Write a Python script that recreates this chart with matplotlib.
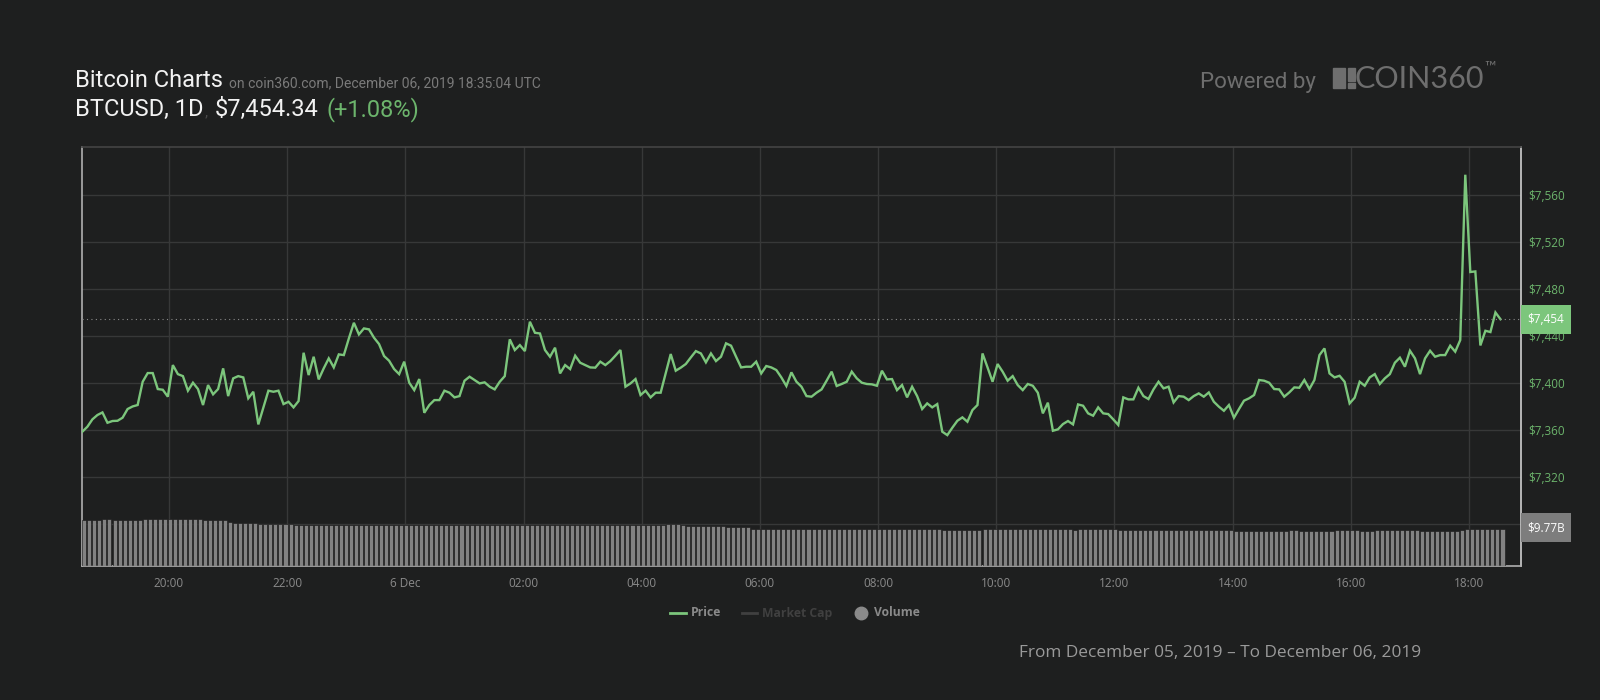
import matplotlib
matplotlib.use("Agg")
import matplotlib.pyplot as plt
import matplotlib.dates as mdates
from matplotlib.patches import Rectangle
from matplotlib.lines import Line2D
from matplotlib.ticker import FuncFormatter
from matplotlib.transforms import blended_transform_factory
import pandas as pd

# BTCUSD price, one reading per ~5 minutes
price = [
    7358.6, 7362.8, 7369.1, 7372.8, 7375.0, 7366.2, 7367.7, 7367.9, 7370.5, 7377.9,
    7380.1, 7381.3, 7401.1, 7408.5, 7408.5, 7394.9, 7394.3, 7388.4, 7415.3, 7407.6,
    7405.9, 7393.5, 7400.3, 7394.9, 7381.3, 7398.3, 7390.4, 7394.9, 7412.5, 7388.9,
    7404.0, 7405.9, 7404.8, 7387.0, 7392.6, 7364.8, 7379.3, 7393.5, 7392.6, 7393.5,
    7382.1, 7384.1, 7379.3, 7384.7, 7425.8, 7406.8, 7422.4, 7403.1, 7412.5, 7421.0,
    7413.3, 7424.4, 7423.8, 7438.0, 7451.3, 7441.4, 7446.5, 7445.7, 7438.6, 7433.2,
    7423.0, 7419.0, 7411.9, 7407.6, 7418.2, 7400.3, 7394.0, 7403.4, 7374.7, 7381.3,
    7385.5, 7385.5, 7393.5, 7391.8, 7387.8, 7388.9, 7402.0, 7405.4, 7402.6, 7399.7,
    7400.6, 7396.9, 7394.6, 7401.1, 7405.9, 7437.2, 7428.1, 7432.3, 7427.2, 7452.2,
    7442.8, 7442.2,
    7428.1, 7422.4, 7430.1, 7408.2, 7415.3, 7411.9, 7423.3, 7417.3, 7415.3, 7413.3,
    7413.1, 7418.2, 7415.3, 7418.7, 7423.3, 7428.1, 7396.9, 7399.7, 7403.4, 7389.8,
    7393.5, 7387.8, 7391.8, 7391.8, 7408.2, 7424.7, 7410.5, 7413.1, 7416.2, 7421.8,
    7427.2, 7425.2, 7417.6, 7425.2, 7418.7, 7422.4, 7433.8, 7431.8, 7422.4, 7413.3,
    7413.9, 7413.9, 7418.2, 7408.2, 7414.5, 7413.3, 7411.1, 7404.8, 7397.5, 7409.1,
    7401.1, 7396.9, 7388.9, 7388.4, 7391.8, 7394.6, 7402.0, 7409.7, 7397.5, 7399.2,
    7401.1, 7409.7, 7404.0, 7400.3, 7399.2, 7398.9, 7397.7, 7410.5, 7403.1, 7403.4,
    7394.0, 7398.3, 7387.8, 7396.9, 7388.9, 7377.9, 7382.7, 7379.3, 7382.1, 7358.6,
    7355.7, 7362.0, 7367.9, 7370.8, 7367.1, 7377.0, 7381.3,
    7425.2, 7413.3, 7401.1, 7416.2, 7409.7, 7402.0, 7405.9, 7398.3, 7394.0, 7399.2,
    7397.7, 7391.8, 7374.2, 7383.3, 7359.4, 7360.6, 7365.1, 7367.7, 7364.8, 7381.8,
    7380.7, 7374.2, 7372.2, 7379.3, 7374.2, 7373.6, 7369.1, 7364.3, 7387.8, 7386.1,
    7386.1, 7396.0, 7388.9, 7386.4, 7394.6, 7401.1, 7395.5, 7396.9, 7383.5, 7388.9,
    7388.4, 7385.5, 7388.9, 7391.2, 7388.4, 7392.0, 7384.1, 7379.9, 7376.4, 7381.3,
    7370.5, 7377.9, 7385.0, 7387.0, 7389.8, 7402.6, 7402.0, 7400.3, 7394.9, 7394.6,
    7388.4, 7392.0, 7396.3, 7396.0, 7402.6, 7394.9, 7402.6, 7423.8, 7429.5, 7408.2,
    7404.8, 7406.2, 7401.1, 7382.7, 7387.5, 7401.1, 7397.7, 7404.8, 7407.6, 7399.2,
    7404.0, 7407.6, 7417.3, 7421.6, 7413.9, 7427.5, 7421.0, 7407.6, 7421.0, 7427.5,
    7422.4, 7423.8, 7423.8, 7431.8, 7426.7, 7436.6,
    7577.3, 7494.5, 7495.0, 7432.0, 7444.5, 7443.4, 7460.1, 7454.3,
]

# 24h volume in $B, stored as (value, number of bars)
volume_runs = [
    (12.05, 4), (12.39, 2), (12.05, 6), (12.39, 12), (12.05, 5), (11.60, 1),
    (11.34, 5), (11.08, 7), (10.82, 59), (10.66, 4), (10.82, 6), (10.66, 5),
    (10.92, 3), (10.66, 1), (10.40, 8), (10.14, 5), (9.77, 38), (9.51, 8),
    (9.77, 18), (9.51, 1), (9.77, 8), (9.51, 12), (9.30, 11), (9.12, 11),
    (9.30, 2), (9.12, 7), (9.30, 5), (9.12, 3), (9.30, 9), (9.12, 8),
    (9.43, 1), (9.56, 1), (9.77, 7),
]
volume = []
for v, n in volume_runs:
    volume += [v] * n

start_time = "2019-12-05 18:32"
end_time = "2019-12-06 18:32"
price_ticks = [7280, 7320, 7360, 7400, 7440, 7480, 7520, 7560]
current_price_label = "$7,454"
current_volume_label = "$9.77B"

BG = "#1e1f1f"
GRID = "#373838"
GREEN = "#7cc67c"
GREEN_TXT = "#6cb46c"
GREY_TXT = "#8a8a8a"

W, H = 1600, 700
fig = plt.figure(figsize=(16, 7), dpi=100, facecolor=BG)
ax_left, ax_right, ax_top, ax_bottom = 82, 1521, 147, 566
ax = fig.add_axes([ax_left / W, 1 - ax_bottom / H, (ax_right - ax_left) / W, (ax_bottom - ax_top) / H])
ax.set_facecolor(BG)

times = pd.date_range(start_time, end_time, periods=len(price))
x = mdates.date2num(times.to_pydatetime())
step = x[1] - x[0]

ax.set_xlim(mdates.date2num(pd.Timestamp("2019-12-05 18:31:40")),
            mdates.date2num(pd.Timestamp("2019-12-06 18:52:50")))
ax.set_ylim(7244.3, 7600.9)

# volume layer (above grid, below price line)
axv = ax.twinx()
axv.set_ylim(0, 109.7)
axv.bar(x, volume, width=step * 0.8, align="edge", color="#828282",
        edgecolor="#161616", linewidth=0.4)

# price layer
axl = ax.twinx()
axl.set_ylim(ax.get_ylim())
axl.plot(x, price, color=GREEN, lw=1.7, solid_joinstyle="miter")
axl.axhline(price[-1], color="#8a8a8a", ls=(0, (1, 3)), lw=0.8)

for a in (axv, axl):
    a.set_yticks([])
    for s in a.spines.values():
        s.set_visible(False)

# axes styling
ax.yaxis.tick_right()
ax.set_yticks(price_ticks)
ax.yaxis.set_major_formatter(FuncFormatter(lambda v, p: "" if v < 7300 else "${:,.0f}".format(v)))
ax.tick_params(axis="y", length=0, pad=5, labelcolor=GREEN_TXT, labelsize=8.5)
ax.xaxis.set_major_locator(mdates.HourLocator(byhour=range(0, 24, 2)))


def xfmt(v, pos):
    d = mdates.num2date(v)
    return "6 Dec" if d.hour == 0 else d.strftime("%H:%M")


ax.xaxis.set_major_formatter(FuncFormatter(xfmt))
ax.tick_params(axis="x", length=0, pad=8, labelcolor=GREY_TXT, labelsize=8.5)
for lbl in ax.get_xticklabels() + ax.get_yticklabels():
    lbl.set_fontfamily("Open Sans")
ax.grid(True, color=GRID, lw=1)
ax.spines["top"].set_color("#444444")
ax.spines["left"].set_color("#b0b0b0")
ax.spines["bottom"].set_color("#b0b0b0")
ax.spines["right"].set_color("#d0d0d0")
for s in ax.spines.values():
    s.set_linewidth(1.2)

# value boxes on the right edge
px_h = ax_bottom - ax_top
box_w = 50 / (ax_right - ax_left)
p_per_px = (ax.get_ylim()[1] - ax.get_ylim()[0]) / px_h
tr = blended_transform_factory(axl.transAxes, axl.transData)
axl.add_patch(Rectangle((1.0, price[-1] - 14.5 * p_per_px), box_w, 29 * p_per_px,
                        transform=tr, facecolor=GREEN, edgecolor="none", clip_on=False, zorder=5))
axl.text(1.0 + box_w / 2, price[-1], current_price_label, transform=tr, ha="center", va="center",
         color="white", fontsize=8.5, family="Open Sans", zorder=6)

v_per_px = axv.get_ylim()[1] / px_h
trv = blended_transform_factory(axv.transAxes, axv.transData)
axv.add_patch(Rectangle((1.0, volume[-1] - 13.5 * v_per_px), box_w, 29 * v_per_px,
                        transform=trv, facecolor="#7d7d7d", edgecolor="none", clip_on=False, zorder=5))
axv.text(1.0 + box_w / 2, volume[-1] + 1 * v_per_px, current_volume_label, transform=trv, ha="center",
         va="center", color="white", fontsize=8.5, family="Open Sans", zorder=6)


def fx(px):
    return px / W


def fy(py):
    return 1 - py / H


# header
HEAD = 17
fig.text(fx(75), fy(87), "Bitcoin Charts", color="#f2f2f2", fontsize=HEAD, family="Roboto", va="baseline")
fig.text(fx(229), fy(87), "on coin360.com, December 06, 2019 18:35:04 UTC", color="#7a7a7a",
         fontsize=10, family="Roboto", va="baseline")
fig.text(fx(75), fy(116), "BTCUSD, 1D", color="#f2f2f2", fontsize=HEAD, family="Roboto", va="baseline")
fig.text(fx(205), fy(116), ",", color="#4a4a4a", fontsize=11, family="Roboto", va="baseline")
fig.text(fx(215), fy(116), "$7,454.34", color="#f2f2f2", fontsize=HEAD, family="Roboto", va="baseline")
fig.text(fx(327), fy(116), "(+1.08%)", color=GREEN_TXT, fontsize=HEAD, family="Roboto", va="baseline")

# powered-by logo
LOGO = "#6e6e6e"
fig.text(fx(1200), fy(88), "Powered by", color=LOGO, fontsize=16, family="Roboto", va="baseline")
fig.add_artist(Rectangle((fx(1333), fy(88)), 12 / W, 20 / H, transform=fig.transFigure, color=LOGO))
fig.add_artist(Rectangle((fx(1348), fy(81)), 7 / W, 13 / H, transform=fig.transFigure, color=LOGO))
fig.add_artist(Rectangle((fx(1348), fy(88)), 7 / W, 5 / H, transform=fig.transFigure, color=LOGO))
fig.text(fx(1355), fy(88), "COIN360", color=LOGO, fontsize=22, family="Lato", va="baseline")
fig.text(fx(1484), fy(72), "\u2122", color=LOGO, fontsize=11, family="Lato", va="baseline")

# legend
leg_y = fy(613)
fig.add_artist(Line2D([fx(670), fx(686)], [leg_y, leg_y], color=GREEN, lw=2, transform=fig.transFigure))
fig.text(fx(691), leg_y, "Price", color=GREY_TXT, fontsize=8.7, weight="bold", family="Open Sans", va="center")
fig.add_artist(Line2D([fx(742), fx(757)], [leg_y, leg_y], color="#404040", lw=2, transform=fig.transFigure))
fig.text(fx(762), leg_y, "Market Cap", color="#404040", fontsize=8.7, weight="bold", family="Open Sans", va="center")
fig.add_artist(Line2D([fx(861)], [leg_y], marker="o", markersize=9, color=GREY_TXT, lw=0,
                      transform=fig.transFigure))
fig.text(fx(874), leg_y, "Volume", color=GREY_TXT, fontsize=8.7, weight="bold", family="Open Sans", va="center")

fig.text(fx(1019), fy(657), "From December 05, 2019 \u2013 To December 06, 2019", color="#9a9a9a",
         fontsize=12.4, family="Open Sans", va="baseline")

fig.savefig("out.png", dpi=100, facecolor=BG)
